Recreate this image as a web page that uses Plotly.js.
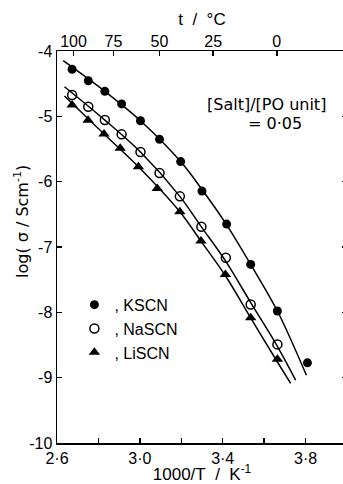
<!DOCTYPE html>
<html>
<head>
<meta charset="utf-8">
<script src="https://cdn.plot.ly/plotly-3.0.1.min.js"></script>
<style>html,body{margin:0;padding:0;background:#fff;overflow:hidden}#chart{width:347px;height:484px}</style>
</head>
<body>
<div id="chart"></div>
<script>
// Data (x = 1000/T in K^-1, y = log(sigma / S cm^-1))
const kscnX = [2.673, 2.751, 2.831, 2.912, 3.003, 3.095, 3.197, 3.300, 3.419, 3.535, 3.664, 3.809];
const kscnY = [-4.28, -4.455, -4.617, -4.81, -5.067, -5.352, -5.693, -6.144, -6.649, -7.266, -7.98, -8.773];
const naX = [2.673, 2.751, 2.831, 2.912, 3.003, 3.095, 3.193, 3.297, 3.415, 3.535, 3.664];
const naY = [-4.674, -4.853, -5.057, -5.276, -5.547, -5.868, -6.225, -6.691, -7.165, -7.879, -8.491];
const liX = [2.673, 2.750, 2.827, 2.905, 2.993, 3.084, 3.193, 3.295, 3.413, 3.535, 3.664];
const liY = [-4.827, -5.061, -5.271, -5.49, -5.772, -6.103, -6.461, -6.91, -7.42, -8.084, -8.717];

// Fitted curves, points
const kscnFitX = [2.630, 2.831, 3.003, 3.197, 3.300, 3.419, 3.535, 3.664, 3.804];
const kscnFitY = [-4.148, -4.617, -5.067, -5.693, -6.12, -6.66, -7.266, -7.98, -8.962];
const naFitX = [2.636, 2.831, 3.003, 3.193, 3.297, 3.415, 3.535, 3.664, 3.752];
const naFitY = [-4.547, -5.057, -5.547, -6.225, -6.691, -7.22, -7.85, -8.52, -9.038];
const liFitX = [2.636, 2.827, 2.993, 3.193, 3.295, 3.413, 3.535, 3.664, 3.728];
const liFitY = [-4.689, -5.271, -5.772, -6.461, -6.91, -7.44, -8.084, -8.76, -9.089];

const names = [',\u00a0KSCN', ',\u00a0NaSCN', ',\u00a0LiSCN'];

const xTickVals = [2.6, 3.0, 3.4, 3.8];
const xTickText = ['2·6', '3·0', '3·4', '3·8'];
const yTickVals = [-4, -5, -6, -7, -8, -9, -10];
const yTickText = ['-4', '-5', '-6', '-7', '-8', '-9', '-10'];
const topTempC = [100, 75, 50, 25, 0];
const topTickText = ['100', '75', '50', '25', '0'];

const topTickVals = topTempC.map(t => 1000 / (t + 273.15));
const lineStyle = {color: '#000', width: 1.5, shape: 'spline', smoothing: 0.9};
const fontFam = 'Liberation Sans, Arial, sans-serif';
const wideFam = 'DejaVu Sans, sans-serif';
const nb = '\u00a0';

const traces = [
  {x: kscnFitX, y: kscnFitY, mode: 'lines', line: lineStyle, showlegend: false, hoverinfo: 'skip'},
  {x: naFitX, y: naFitY, mode: 'lines', line: lineStyle, showlegend: false, hoverinfo: 'skip'},
  {x: liFitX, y: liFitY, mode: 'lines', line: lineStyle, showlegend: false, hoverinfo: 'skip'},
  {x: kscnX, y: kscnY, mode: 'markers', name: names[0],
   marker: {symbol: 'circle', size: 9, color: '#000'}},
  {x: naX, y: naY, mode: 'markers', name: names[1],
   marker: {symbol: 'circle-open', size: 9, color: '#000', line: {width: 1.5, color: '#000'}}},
  {x: liX, y: liY, mode: 'markers', name: names[2],
   marker: {symbol: 'triangle-up', size: 10, color: '#000'}},
  {x: [], y: [], xaxis: 'x2', showlegend: false}
];

const tickCommon = {ticks: 'inside', ticklen: 5, tickwidth: 1.5, tickcolor: '#000',
                    showgrid: false, zeroline: false};

const layout = {
  width: 347, height: 484,
  margin: {l: 57, r: 0, t: 51, b: 41},
  paper_bgcolor: '#fff', plot_bgcolor: '#fff',
  font: {family: fontFam, size: 16, color: '#000'},
  showlegend: true,
  legend: {x: 0.06, y: 0.396, xanchor: 'left', yanchor: 'top', bgcolor: 'rgba(0,0,0,0)',
           font: {size: 16}, itemwidth: 30, tracegroupgap: 0},
  xaxis: Object.assign({range: [2.6, 4.0], tickvals: xTickVals, ticktext: xTickText,
          minor: {tick0: 2.6, dtick: 0.2, ticks: 'inside', ticklen: 5, tickwidth: 1.5, tickcolor: '#000', showgrid: false},
          showline: true, linecolor: '#000', linewidth: 1.5, mirror: true,
          title: {text: '1000/T' + nb + nb + '/' + nb + nb + 'K<sup>-1</sup>', font: {size: 17}, standoff: 0}}, tickCommon),
  xaxis2: Object.assign({range: [2.6, 4.0], overlaying: 'x', side: 'top', anchor: 'y',
           tickvals: topTickVals, ticktext: topTickText, showline: false,
           title: {text: 't' + nb + nb + '/' + nb + nb + '°C', font: {size: 17}, standoff: 2}}, tickCommon),
  yaxis: Object.assign({range: [-10, -4], tickvals: yTickVals, ticktext: yTickText,
          showline: true, linecolor: '#000', linewidth: 1.5, mirror: 'ticks'}, tickCommon),
  annotations: [
    {xref: 'paper', yref: 'paper', x: (22 - 57) / 290, y: (443 - 222) / 392, xanchor: 'center', yanchor: 'middle',
     textangle: -90, text: 'log(' + nb + 'σ' + nb + '/' + nb + 'Scm<sup>-1</sup>)', showarrow: false,
     font: {family: wideFam, size: 16}},
    {xref: 'paper', yref: 'paper', x: (328 - 57) / 290, y: (443 - 104) / 392, xanchor: 'right', yanchor: 'middle',
     text: '[Salt]/[PO unit]', showarrow: false, font: {family: wideFam, size: 16}},
    {xref: 'paper', yref: 'paper', x: (304 - 57) / 290, y: (443 - 123) / 392, xanchor: 'right', yanchor: 'middle',
     text: '=' + nb + '0·05', showarrow: false, font: {family: wideFam, size: 16}}
  ]
};

Plotly.newPlot('chart', traces, layout, {displayModeBar: false, staticPlot: true});
</script>
</body>
</html>
